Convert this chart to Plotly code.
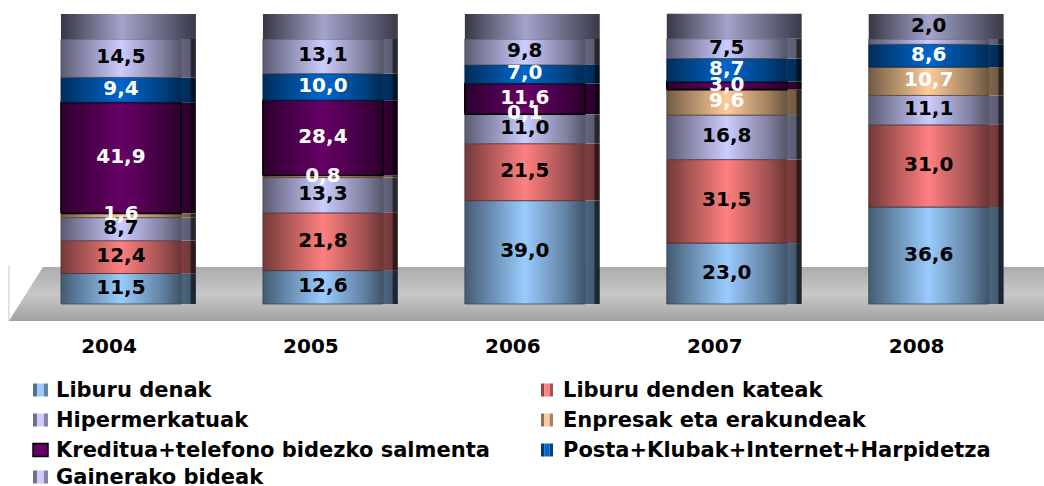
import plotly.graph_objects as go

# ---- data -----------------------------------------------------------------
years = ["2004", "2005", "2006", "2007", "2008"]

series_names = [
    "Liburu denak",
    "Liburu denden kateak",
    "Hipermerkatuak",
    "Enpresak eta erakundeak",
    "Kreditua+telefono bidezko salmenta",
    "Posta+Klubak+Internet+Harpidetza",
    "Gainerako bideak",
]

liburu_denak = [11.5, 12.6, 39.0, 23.0, 36.6]
liburu_denden_kateak = [12.4, 21.8, 21.5, 31.5, 31.0]
hipermerkatuak = [8.7, 13.3, 11.0, 16.8, 11.1]
enpresak = [1.6, 0.8, 0.1, 9.6, 10.7]
kreditua = [41.9, 28.4, 11.6, 3.0, 0.0]
posta = [9.4, 10.0, 7.0, 8.7, 8.6]
gainerako = [14.5, 13.1, 9.8, 7.5, 2.0]

series_values = [liburu_denak, liburu_denden_kateak, hipermerkatuak,
                 enpresak, kreditua, posta, gainerako]

# ---- styling --------------------------------------------------------------
base_colors = ["#99CCFF", "#FF8080", "#CCCCFF", "#FFCC99",
               "#660066", "#0066CC", "#CCCCFF"]
label_colors = ["black", "black", "black", "white", "white", "white", "black"]

FONT = "DejaVu Sans"
W, H = 1044, 486
MARGIN_B = 162
PLOT_H = H - MARGIN_B

X_RANGE = [-0.599, 4.571]
Y_RANGE = [-7.55, 114.72]

HALF_FRONT = 0.297      # half width of the front face (axis units)
SIDE_END = 0.371        # end of the side face
CAP_DEPTH = 9.43        # height of the top face (axis units)
MIN_LABEL_ROOM = 5.0    # thinner top segments get their label on the top face


def rgb(hex_color):
    h = hex_color.lstrip("#")
    return tuple(int(h[i:i + 2], 16) for i in (0, 2, 4))


def shade(hex_color, f):
    r, g, b = rgb(hex_color)
    return "rgb(%d,%d,%d)" % (min(255, r * f), min(255, g * f), min(255, b * f))


def cylinder_scale(c):
    return [[0.0, shade(c, 0.45)], [0.15, shade(c, 0.62)], [0.5, shade(c, 1.0)],
            [0.85, shade(c, 0.63)], [1.0, shade(c, 0.42)]]


def fmt(v):
    return ("%.1f" % v).replace(".", ",")


fig = go.Figure()

# ---- floor ----------------------------------------------------------------
FLOOR_TOP, FLOOR_BOTTOM = 13.96, -6.4
FLOOR_LEFT_TOP, FLOOR_LEFT_BOTTOM, FLOOR_RIGHT = -0.386, -0.555, 4.8
fig.add_trace(go.Scatter(
    x=[FLOOR_LEFT_BOTTOM, FLOOR_LEFT_TOP, FLOOR_RIGHT, FLOOR_RIGHT, FLOOR_LEFT_BOTTOM],
    y=[FLOOR_BOTTOM, FLOOR_TOP, FLOOR_TOP, FLOOR_BOTTOM, FLOOR_BOTTOM],
    mode="lines", line=dict(width=0), fill="toself",
    fillgradient=dict(type="vertical",
                      colorscale=[[0, "#a2a2a2"], [0.5, "#c8c8c8"], [1, "#acacac"]]),
    hoverinfo="skip", showlegend=False))

# ---- stacked cylinders ----------------------------------------------------
label_x, label_y, label_text, label_col = [], [], [], []
n_series = len(series_values)
for i, year in enumerate(years):
    bottom = 0.0
    for s, values in enumerate(series_values):
        v = values[i]
        if v <= 0:
            continue
        top = bottom + v
        c = base_colors[s]
        is_credit = s == 4
        # side face
        fig.add_trace(go.Scatter(
            x=[i + HALF_FRONT, i + HALF_FRONT, i + SIDE_END, i + SIDE_END, i + HALF_FRONT],
            y=[bottom, top, top, bottom, bottom],
            mode="lines", line=dict(width=0), fill="toself",
            fillgradient=dict(type="horizontal", colorscale=[
                [0, shade(c, 0.5)], [0.62, shade(c, 0.45)],
                [0.68, shade(c, 0.2)], [1, shade(c, 0.18)]]),
            hoverinfo="skip", showlegend=False))
        # front face
        fig.add_trace(go.Scatter(
            x=[i - HALF_FRONT, i - HALF_FRONT, i + HALF_FRONT, i + HALF_FRONT, i - HALF_FRONT],
            y=[bottom, top, top, bottom, bottom],
            mode="lines",
            line=dict(width=1.6 if is_credit else 0.8,
                      color="black" if is_credit else shade(c, 0.35)),
            fill="toself",
            fillgradient=dict(type="horizontal", colorscale=cylinder_scale(c)),
            name=series_names[s], hoverinfo="name", showlegend=False))
        label_x.append(i)
        if s == n_series - 1 and v < MIN_LABEL_ROOM:
            label_y.append(top + CAP_DEPTH / 2)
        else:
            label_y.append((bottom + top) / 2)
        label_text.append(fmt(v))
        label_col.append(label_colors[s])
        bottom = top
    # top face
    cap_c = base_colors[-1]
    fig.add_trace(go.Scatter(
        x=[i - HALF_FRONT, i - HALF_FRONT, i + SIDE_END, i + SIDE_END, i - HALF_FRONT],
        y=[bottom, bottom + CAP_DEPTH, bottom + CAP_DEPTH, bottom, bottom],
        mode="lines", line=dict(width=0), fill="toself",
        fillgradient=dict(type="horizontal", colorscale=[
            [0, shade(cap_c, 0.27)], [0.45, shade(cap_c, 0.8)], [1, shade(cap_c, 0.28)]]),
        hoverinfo="skip", showlegend=False))

# value labels
fig.add_trace(go.Scatter(
    x=label_x, y=label_y, text=label_text, mode="text",
    textposition="middle center",
    textfont=dict(family=FONT, size=20, weight="bold", color=label_col),
    hoverinfo="skip", showlegend=False, cliponaxis=False))

# ---- legend (two columns) -------------------------------------------------
def py(pixel_y):
    return (PLOT_H - pixel_y) / PLOT_H


def px(pixel_x):
    return pixel_x / W


shapes = [dict(type="line", xref="x", yref="y",
               x0=FLOOR_LEFT_BOTTOM, x1=FLOOR_LEFT_BOTTOM, y0=FLOOR_BOTTOM, y1=FLOOR_TOP + 0.8,
               line=dict(color="#dcdcdc", width=1.5), layer="below")]
annotations = []
left_col = [0, 2, 4, 6]
right_col = [1, 3, 5]
row_y = [390, 420, 450, 477]
for col, (mx0, mx1, tx) in ((left_col, (33, 48, 54)), (right_col, (541, 553, 561))):
    for r, s in enumerate(col):
        cy = row_y[r]
        c = base_colors[s]
        y0, y1 = py(cy + 6.5), py(cy - 6.5)
        if s == 4:
            shapes.append(dict(type="rect", xref="paper", yref="paper",
                               x0=px(mx0), x1=px(mx1), y0=y0, y1=y1,
                               fillcolor=c, line=dict(color="black", width=1.5)))
        else:
            w = mx1 - mx0
            cuts = [mx0, mx0 + w * 0.28, mx0 + w * 0.72, mx1]
            fills = [shade(c, 0.55), c, shade(c, 0.65)]
            for k in range(3):
                shapes.append(dict(type="rect", xref="paper", yref="paper",
                                   x0=px(cuts[k]), x1=px(cuts[k + 1]), y0=y0, y1=y1,
                                   fillcolor=fills[k], line=dict(width=0)))
        annotations.append(dict(
            x=px(tx), y=py(cy), xref="paper", yref="paper",
            xanchor="left", yanchor="middle", showarrow=False,
            text=series_names[s],
            font=dict(family=FONT, size=21, weight="bold", color="black")))

fig.update_layout(
    width=W, height=H,
    margin=dict(l=0, r=0, t=0, b=MARGIN_B, pad=0),
    paper_bgcolor="white", plot_bgcolor="white",
    showlegend=False,
    shapes=shapes, annotations=annotations,
    xaxis=dict(range=X_RANGE, tickvals=list(range(len(years))), ticktext=years,
               showgrid=False, zeroline=False, showline=False, ticks="",
               ticklabelshift=-12, ticklabelstandoff=8,
               tickfont=dict(family=FONT, size=20, weight="bold", color="black"),
               fixedrange=True),
    yaxis=dict(range=Y_RANGE, showgrid=False, zeroline=False, showline=False,
               showticklabels=False, ticks="", fixedrange=True),
)

fig.write_html("out.html")
